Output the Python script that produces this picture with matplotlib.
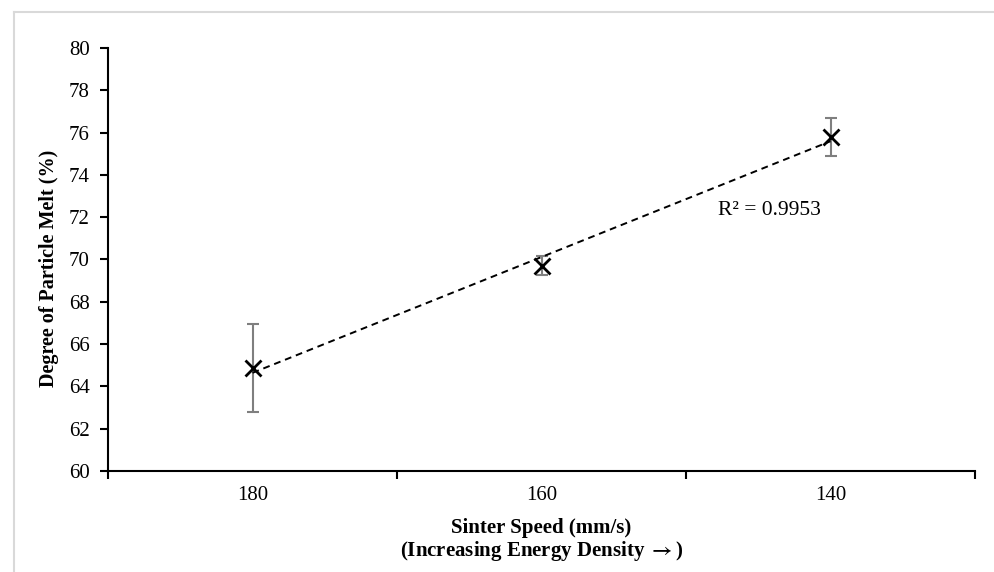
import numpy as np
import matplotlib
matplotlib.use("Agg")
import matplotlib.pyplot as plt
from matplotlib.lines import Line2D

categories = ["180", "160", "140"]
melt = [64.85, 69.7, 75.8]
err = [2.08, 0.45, 0.9]
r2_label = "R² = 0.9953"

plt.rcParams['font.family'] = ['Liberation Serif', 'DejaVu Serif']
plt.rcParams['mathtext.fontset'] = 'stix'

fig = plt.figure(figsize=(9.94, 5.72), dpi=100)
ax = fig.add_axes([108/994, 1-471/572, (975-108)/994, (471-48)/572])

x = np.arange(len(categories))
ax.errorbar(x, melt, yerr=err, fmt='none', ecolor='#7f7f7f', elinewidth=1.5,
            capsize=4, capthick=1.5, zorder=2)
ax.plot(x, melt, linestyle='none', marker='x', color='black', ms=12, mew=2, zorder=3)

coef = np.polyfit(x, melt, 1)
xt = np.array([x[0], x[-1]])
ax.plot(xt, np.polyval(coef, xt), linestyle=(0, (3.5, 2.5)), color='black', lw=1.4, zorder=2)

ax.text(1.61, 72.3, r2_label, fontsize=15.5, va='center', ha='left')

ax.set_xlim(-0.5, len(categories) - 0.5)
ax.set_ylim(60, 80)
ax.set_yticks(np.arange(60, 81, 2))
ax.set_xticks(x)
ax.set_xticklabels(categories, fontsize=15)
ax.set_xticks(np.arange(-0.5, len(categories)), minor=True)
ax.tick_params(axis='x', which='major', length=0, pad=11)
ax.tick_params(axis='x', which='minor', length=6, width=1.5, direction='out')
ax.tick_params(axis='y', labelsize=15, length=6, width=1.5, direction='out', pad=7)

for s in ['top', 'right']:
    ax.spines[s].set_visible(False)
for s in ['left', 'bottom']:
    ax.spines[s].set_linewidth(1.5)

ax.set_ylabel("Degree of Particle Melt (%)", fontsize=14.5, fontweight='bold')
ax.yaxis.set_label_coords(-0.057, 0.48)
ax.set_xlabel("Sinter Speed (mm/s)\n(Increasing Energy Density $\\mathbf{\\rightarrow}$)", fontsize=15,
              fontweight='bold', labelpad=9, linespacing=1.05)

# chart border (partially visible)
fig.add_artist(Line2D([14/994, 14/994], [0, 1-12/572], transform=fig.transFigure,
                      color='#d9d9d9', lw=1.5))
fig.add_artist(Line2D([14/994, 1], [1-12/572, 1-12/572], transform=fig.transFigure,
                      color='#d9d9d9', lw=1.5))

fig.savefig("out.png", dpi=100)
